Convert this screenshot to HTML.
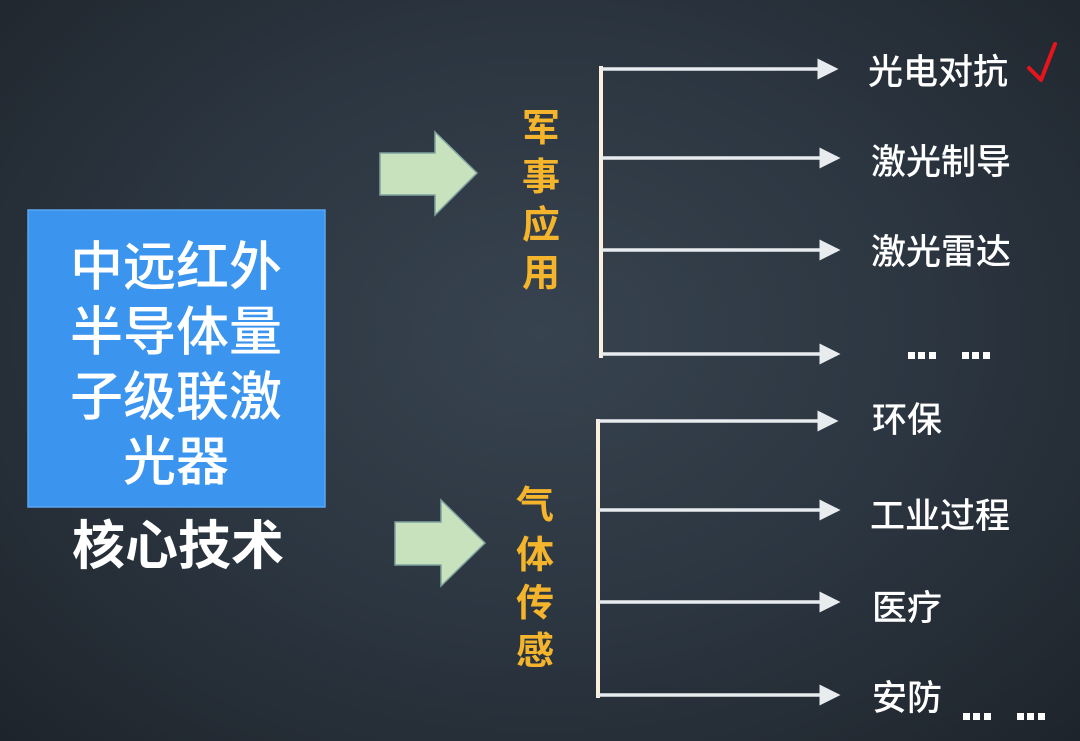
<!DOCTYPE html>
<html><head><meta charset="utf-8"><style>
html,body{margin:0;padding:0;width:1080px;height:741px;overflow:hidden;}
body{background:radial-gradient(ellipse at 50% 45%,#37434f 0%,#2c3641 50%,#1e242b 100%);}
text{font-family:"Liberation Sans","Noto Sans CJK SC",sans-serif;}
</style></head><body>
<svg width="1080" height="741" viewBox="0 0 1080 741" xmlns="http://www.w3.org/2000/svg">
<defs><marker id="a" markerWidth="7" markerHeight="7" refX="5" refY="3" orient="auto" markerUnits="strokeWidth"><path d="M0,0 L6,3 L0,6 Z" fill="#e8ecef"/></marker></defs>
<rect x="28" y="210" width="297" height="297" fill="#3b95ee" stroke="#5aa6f0" stroke-width="1.5"/>
<g fill="#fff" font-size="53" font-weight="500" text-anchor="middle">
<text x="176" y="285">中远红外</text>
<text x="176" y="350">半导体量</text>
<text x="176" y="415">子级联激</text>
<text x="176" y="480">光器</text>
<text x="178" y="564" font-weight="bold">核心技术</text>
</g>
<path d="M380,153 H435 V132 L477,173 L435,215 V195 H380 Z" fill="#c8e2bd" stroke="#7fa2a0" stroke-width="1.5"/>
<path d="M395,522 H441 V500 L485,543 L441,586 V565 H395 Z" fill="#c8e2bd" stroke="#7fa2a0" stroke-width="1.5"/>
<g fill="#f4b52c" font-size="38" font-weight="bold" text-anchor="middle">
<text x="541" y="141">军</text><text x="541" y="190">事</text><text x="541" y="238">应</text><text x="541" y="286">用</text>
<text x="535" y="518">气</text><text x="535" y="568">体</text><text x="535" y="616">传</text><text x="535" y="664">感</text>
</g>
<g stroke="#fbf0dc" stroke-width="4">
<line x1="601" y1="66" x2="601" y2="358"/>
<line x1="598" y1="419" x2="598" y2="698"/>
</g>
<g stroke="#e8ecef" stroke-width="3.5" marker-end="url(#a)">
<line x1="601" y1="69" x2="835" y2="69"/>
<line x1="601" y1="158" x2="837" y2="158"/>
<line x1="601" y1="250" x2="837" y2="250"/>
<line x1="601" y1="354" x2="837" y2="354"/>
<line x1="598" y1="421" x2="835" y2="421"/>
<line x1="598" y1="510" x2="837" y2="510"/>
<line x1="598" y1="602" x2="837" y2="602"/>
<line x1="598" y1="695" x2="837" y2="695"/>
</g>
<g fill="#fff" font-size="35" font-weight="500">
<text x="868" y="84">光电对抗</text>
<text x="871" y="174">激光制导</text>
<text x="871" y="264">激光雷达</text>
<text x="872" y="432">环保</text>
<text x="870" y="528">工业过程</text>
<text x="872" y="620">医疗</text>
<text x="872" y="710">安防</text>
</g>
<g fill="#fff">
<rect x="908" y="352" width="7" height="7"/><rect x="918" y="352" width="7" height="7"/><rect x="929" y="352" width="7" height="7"/>
<rect x="962" y="352" width="7" height="7"/><rect x="972" y="352" width="7" height="7"/><rect x="983" y="352" width="7" height="7"/>
<rect x="963" y="713" width="7" height="7"/><rect x="973" y="713" width="7" height="7"/><rect x="984" y="713" width="7" height="7"/>
<rect x="1017" y="713" width="7" height="7"/><rect x="1027" y="713" width="7" height="7"/><rect x="1038" y="713" width="7" height="7"/>
</g>
<path d="M1029,68 L1041,80 L1055,44" fill="none" stroke="#e8141c" stroke-width="4" stroke-linecap="round" stroke-linejoin="round"/>
</svg>
</body></html>
